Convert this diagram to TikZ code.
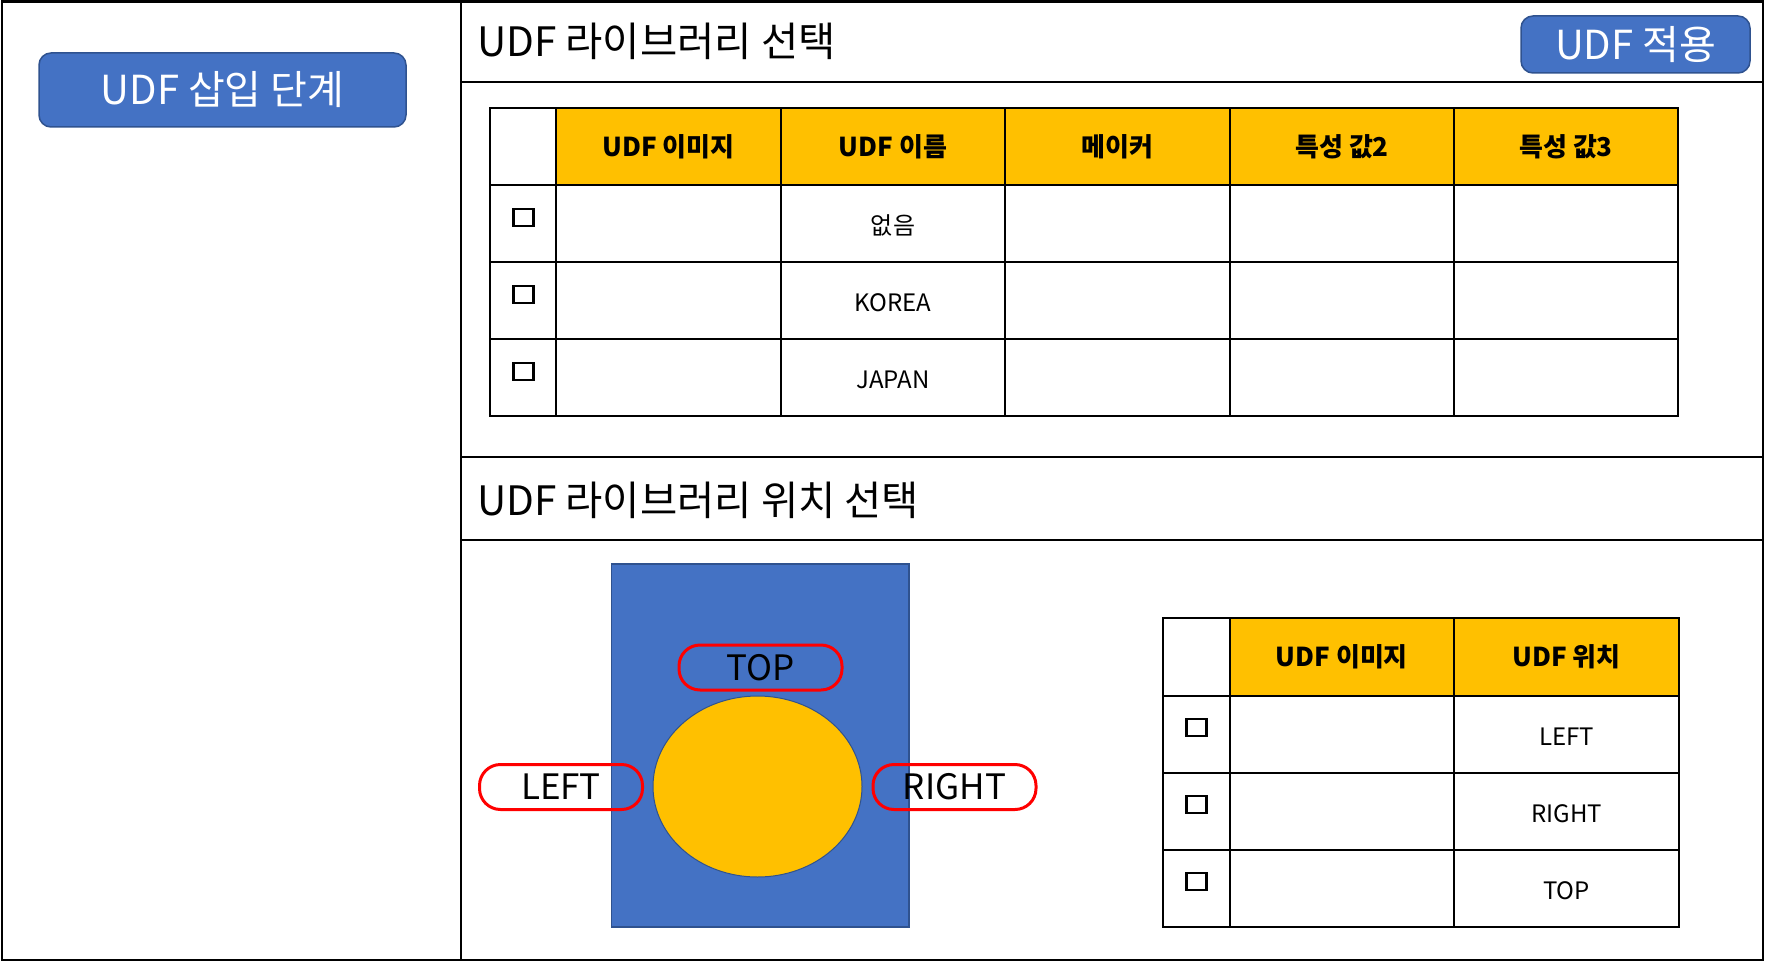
\documentclass[tikz,border=0pt]{standalone}
\usepackage{fontspec}
\setmainfont{Noto Sans CJK KR}
\usetikzlibrary{shapes.geometric}
\definecolor{cblue}{HTML}{4472C4}
\definecolor{cblueb}{HTML}{2F528F}
\definecolor{cyel}{HTML}{FFC000}
\definecolor{cred}{HTML}{FF0000}
\tikzset{
  frameline/.style={line width=2.2pt, draw=black},
  gridline/.style={line width=2pt, draw=black},
  btn/.style={rounded corners=12pt, fill=cblue, draw=cblueb, line width=1.5pt, text=white, inner sep=0pt, font=\fontsize{40}{42}\selectfont},
  title/.style={anchor=base west, inner sep=0pt, font=\fontsize{40.5}{43}\selectfont},
  headtxt/.style={inner sep=0pt, font=\fontsize{26}{28}\selectfont\bfseries},
  celltxt/.style={inner sep=0pt, font=\fontsize{24}{26}\selectfont},
  chk/.style={draw=black, line width=2.8pt, minimum width=20pt, minimum height=17pt, inner sep=0pt},
  pill/.style={draw=cred, line width=3pt, rounded corners=21pt, minimum width=163pt, minimum height=45pt, inner sep=0pt, font=\fontsize{35}{37}\selectfont},
}
\begin{document}
\begin{tikzpicture}[x=1pt,y=-1pt]
\useasboundingbox (0,0) rectangle (1766,963);
\fill[white] (0,0) rectangle (1766,963);
% frame and panels
\draw[frameline] (2,1.5) rectangle (1763,960);
\draw[frameline] (461,1.5) -- (461,960);
\draw[frameline] (461,82) -- (1763,82);
\draw[frameline] (461,457) -- (1763,457);
\draw[frameline] (461,540) -- (1763,540);
% buttons
\node[btn, minimum width=367pt, minimum height=74pt] (stepbtn) at (222.5,90) {UDF 삽입 단계};
\node[btn, minimum width=229pt, minimum height=57pt] (applybtn) at (1635.5,44.5) {UDF 적용};
% titles
\node[title] (title1) at (477,57) {UDF 라이브러리 선택};
\node[title] (title2) at (477,515) {UDF 라이브러리 위치 선택};
% table 1
\fill[cyel] (556,108) rectangle (1678,185);
\foreach \x in {490,556,781,1005,1230,1454,1678} \draw[gridline] (\x,108) -- (\x,416);
\foreach \y in {108,185,262,339,416} \draw[gridline] (489,\y) -- (1679,\y);
\node[headtxt] (h1a) at (668.5,147) {UDF 이미지};
\node[headtxt] (h1b) at (893,147) {UDF 이름};
\node[headtxt] (h1c) at (1117.5,147) {메이커};
\node[headtxt] (h1d) at (1342,147) {특성 값2};
\node[headtxt] (h1e) at (1566,147) {특성 값3};
\node[chk] (c1a) at (523.5,217.5) {};
\node[chk] (c1b) at (523.5,294.5) {};
\node[chk] (c1c) at (523.5,371.5) {};
\node[celltxt] (r1a) at (893,225.5) {없음};
\node[celltxt] (r1b) at (893,302.5) {KOREA};
\node[celltxt] (r1c) at (893,379.5) {JAPAN};
% position picture
\draw[fill=cblue, draw=cblueb, line width=1.5pt] (611.6,564) rectangle (909,927);
\node[ellipse, fill=cyel, draw=cblueb, line width=1pt, minimum width=209pt, minimum height=181pt, inner sep=0pt] (blob) at (757.5,786.5) {};
\node[pill] (ptop) at (760.5,667.5) {TOP};
\node[pill] (pleft) at (561,787) {LEFT};
\node[pill] (pright) at (954.5,787) {RIGHT};
% table 2
\fill[cyel] (1229.5,618) rectangle (1679,696);
\foreach \x in {1163,1229.5,1454,1679} \draw[gridline] (\x,618) -- (\x,927);
\foreach \y in {618,696,773,850,927} \draw[gridline] (1162,\y) -- (1680,\y);
\node[headtxt] (h2a) at (1341.75,657) {UDF 이미지};
\node[headtxt] (h2b) at (1566.5,657) {UDF 위치};
\node[chk] (c2a) at (1196.5,727.5) {};
\node[chk] (c2b) at (1196.5,804.5) {};
\node[chk] (c2c) at (1196.5,881.5) {};
\node[celltxt] (r2a) at (1566.5,736.5) {LEFT};
\node[celltxt] (r2b) at (1566.5,813.5) {RIGHT};
\node[celltxt] (r2c) at (1566.5,890.5) {TOP};
\end{tikzpicture}
\end{document}
